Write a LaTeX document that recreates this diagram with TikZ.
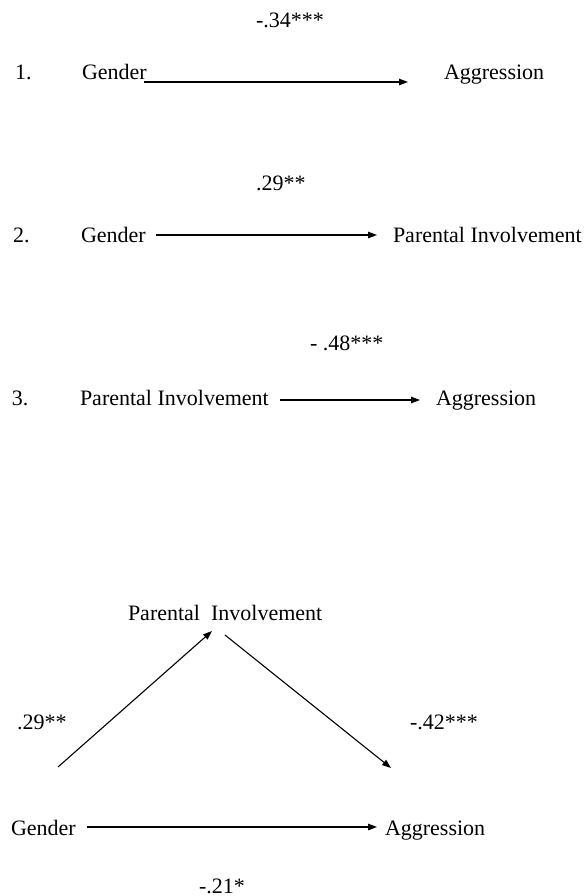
\documentclass[tikz,border=0pt]{standalone}
\usepackage{fontspec}
\setmainfont{Liberation Serif}
\usetikzlibrary{arrows.meta}
\begin{document}
\begin{tikzpicture}[x=1pt,y=-1pt,
  lbl/.style={anchor=base west,inner sep=0pt,outer sep=0pt,font=\fontsize{22}{26}\selectfont},
  arr/.style={line width=1.1pt,-{Triangle[length=9pt,width=6.5pt]}}]
\useasboundingbox (0,0) rectangle (587,896);
% ---- 1 ----
\node[lbl] (c1) at (256,28) {-.34***};
\node[lbl] (n1) at (15,80) {1.};
\node[lbl] (g1) at (82,80) {Gender};
\node[lbl] (a1) at (444,80) {Aggression};
\draw[arr] ([xshift=-3pt,yshift=-2pt]g1.base east) -- ([xshift=-36pt,yshift=-2pt]a1.base west);
% ---- 2 ----
\node[lbl] (c2) at (256,190) {.29**};
\node[lbl] (n2) at (13,242) {2.};
\node[lbl] (g2) at (81,242) {Gender};
\node[lbl] (p2) at (393,242) {Parental Involvement};
\draw[arr] ([xshift=10pt,yshift=7pt]g2.base east) -- ([xshift=-16pt,yshift=7pt]p2.base west);
% ---- 3 ----
\node[lbl] (c3) at (310,350) {- .48***};
\node[lbl] (n3) at (12,405) {3.};
\node[lbl] (p3) at (80,405) {Parental Involvement};
\node[lbl] (a3) at (436,405) {Aggression};
\draw[arr] ([xshift=11pt,yshift=5pt]p3.base east) -- ([xshift=-16pt,yshift=5pt]a3.base west);
% ---- mediation ----
\node[lbl] (pm) at (128,620) {Parental\ \ Involvement};
\node[lbl] (gm) at (11,835) {Gender};
\node[lbl] (am) at (385,835) {Aggression};
\node[lbl] (l1) at (17,729) {.29**};
\node[lbl] (l2) at (410,729) {-.42***};
\node[lbl] (l3) at (199,893) {-.21*};
\coordinate (ls) at (58,767);
\coordinate (lt) at (212,631);
\coordinate (rs) at (225,635);
\coordinate (rt) at (391,768);
\draw[arr] (ls) -- (lt);
\draw[arr] (rs) -- (rt);
\draw[arr] ([xshift=11pt,yshift=8pt]gm.base east) -- ([xshift=-8pt,yshift=8pt]am.base west);
\end{tikzpicture}
\end{document}
